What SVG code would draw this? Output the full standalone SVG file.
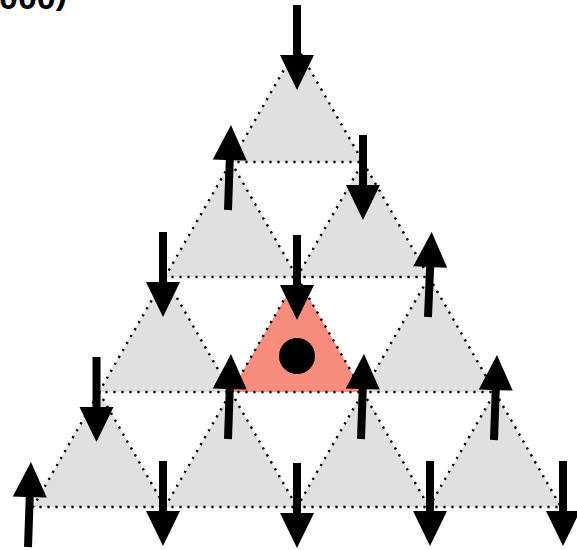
<svg xmlns="http://www.w3.org/2000/svg" xmlns:xlink="http://www.w3.org/1999/xlink" width="577" height="550" viewBox="0 0 577 550">
<style>
.tri{fill:#e0e0e0;stroke:#000;stroke-width:2.4;stroke-dasharray:2.2 5.8}
.hot{fill:#f98d7d}
.lbl{font-family:"Liberation Sans",Arial,sans-serif;font-weight:bold;font-size:34px;fill:#000}
</style>
<defs>
<path id="arrow" d="M-4,0 H4 V50 H17 L0,85 L-17,50 H-4 Z" fill="#000"/>
</defs>
<rect width="577" height="550" fill="#fff"/>
<text class="lbl" x="-1" y="8.5">000<tspan dy="-5">)</tspan></text>
<g id="t1"><polygon class="tri" points="297,47 363,162 231,162"/></g>
<g id="t2"><polygon class="tri" points="231,162 297,277 165,277"/></g>
<g id="t3"><polygon class="tri" points="363,162 429,277 297,277"/></g>
<g id="t4"><polygon class="tri" points="165,277 231,392 99,392"/></g>
<g id="t5"><polygon class="tri hot" points="297,277 363,392 231,392"/><circle cx="297" cy="356" r="18" fill="#000"/></g>
<g id="t6"><polygon class="tri" points="429,277 495,392 363,392"/></g>
<g id="t7"><polygon class="tri" points="99,392 165,507 33,507"/></g>
<g id="t8"><polygon class="tri" points="231,392 297,507 165,507"/></g>
<g id="t9"><polygon class="tri" points="363,392 429,507 297,507"/></g>
<g id="t10"><polygon class="tri" points="495,392 561,507 429,507"/></g>
<g id="arrows">
<use xlink:href="#arrow" transform="translate(297,5)"/>
<use xlink:href="#arrow" transform="translate(228,210) rotate(182)"/>
<use xlink:href="#arrow" transform="translate(363,135)"/>
<use xlink:href="#arrow" transform="translate(163,232)"/>
<use xlink:href="#arrow" transform="translate(297,235)"/>
<use xlink:href="#arrow" transform="translate(428,317) rotate(182.5)"/>
<use xlink:href="#arrow" transform="translate(96.5,357)"/>
<use xlink:href="#arrow" transform="translate(228,439) rotate(182)"/>
<use xlink:href="#arrow" transform="translate(361,439) rotate(182)"/>
<use xlink:href="#arrow" transform="translate(494,440) rotate(182)"/>
<use xlink:href="#arrow" transform="translate(28,547) rotate(182)"/>
<use xlink:href="#arrow" transform="translate(163,461)"/>
<use xlink:href="#arrow" transform="translate(297,463)"/>
<use xlink:href="#arrow" transform="translate(430,461)"/>
<use xlink:href="#arrow" transform="translate(563,461)"/>
</g>
</svg>
